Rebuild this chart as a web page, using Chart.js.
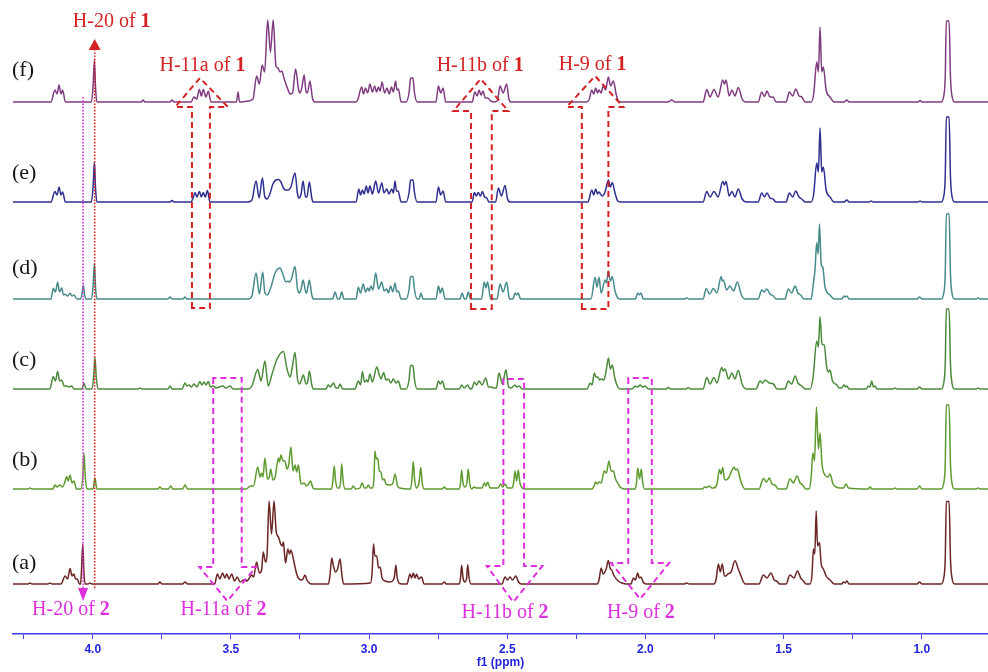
<!DOCTYPE html>
<html><head><meta charset="utf-8">
<script src="https://cdn.jsdelivr.net/npm/chart.js@4"></script>
<style>html,body{margin:0;padding:0;background:#fff}#wrap{width:988px;height:672px}</style>
</head><body><div id="wrap"><canvas id="c" width="988" height="672"></canvas></div>
<script>
// ---- DATA: [chemical shift (ppm), intensity] pairs ----
const spectrumLabels = ['(a)','(b)','(c)','(d)','(e)','(f)'];
const xTickValues = [4.0, 3.5, 3.0, 2.5, 2.0, 1.5, 1.0];

const specF = [
[4.289,0],[4.173,0],[4.151,0],[4.137,12],[4.129,8],[4.122,17],[4.115,8],[4.109,12],[4.099,0],
[4.005,0],[3.999,15],[3.994,42],[3.990,15],[3.985,0],
[3.825,0],[3.818,2],[3.811,0],[3.720,0],[3.713,2],[3.706,0],
[3.644,0],[3.634,5],[3.624,3],[3.614,12.5],[3.607,6],[3.600,12.5],[3.590,5],[3.582,11],[3.572,0],
[3.480,0],[3.474,10],[3.469,0],
[3.438,1],[3.420,3],[3.407,26],[3.397,18],[3.387,37],[3.378,30],[3.367,82],[3.357,50],[3.347,82],[3.337,36],[3.330,34],[3.322,30],[3.316,31],[3.308,24],[3.293,12],[3.286,8],[3.277,9],[3.266,33],[3.255,12],[3.250,9],[3.243,15],[3.235,27],[3.228,10],[3.223,9],[3.214,21],[3.205,4],[3.196,0],
[3.047,0],[3.040,3],[3.027,15],[3.020,8],[3.013,14],[3.005,9],[2.997,18],[2.988,10],[2.980,16],[2.973,10],[2.966,15],[2.960,11],[2.953,20],[2.944,9],[2.935,14],[2.927,8],[2.919,15],[2.912,10],[2.904,21],[2.899,12],[2.894,13],[2.884,0],
[2.866,0],[2.855,10],[2.850,24],[2.841,24],[2.836,10],[2.826,0],
[2.758,0],[2.749,16],[2.741,9],[2.732,14],[2.723,0],
[2.627,0],[2.617,10],[2.609,6],[2.602,12],[2.595,7],[2.588,11],[2.579,4],[2.570,4],[2.560,1],[2.544,0],[2.535,2],[2.526,16],[2.515,9],[2.502,18],[2.494,3],[2.486,0],
[2.215,0],[2.204,2],[2.194,12],[2.187,8],[2.180,14],[2.173,9],[2.168,12],[2.160,9],[2.153,16],[2.144,12],[2.134,25],[2.126,16],[2.116,21],[2.106,8],[2.098,1],[2.088,0],
[1.918,0],[1.905,2],[1.893,0],
[1.791,0],[1.778,12.5],[1.766,5],[1.752,12.5],[1.737,5],[1.720,22],[1.714,18],[1.708,22],[1.697,6],[1.687,12],[1.676,6],[1.664,14.5],[1.650,3],[1.636,0],
[1.592,0],[1.579,10],[1.569,5.5],[1.560,11],[1.549,5],[1.538,5],[1.527,0],
[1.491,0],[1.479,10],[1.467,6],[1.456,13],[1.444,6],[1.434,5],[1.422,0],
[1.400,0],[1.391,8],[1.380,40],[1.374,30],[1.368,75],[1.362,30],[1.356,35],[1.346,12],[1.332,5],[1.317,0],
[1.281,0],[1.271,2],[1.263,0],[1.013,0],[1.006,1.5],[0.999,0],
[0.930,0],[0.921,5],[0.915,25],[0.911,81],[0.901,81],[0.896,25],[0.890,5],[0.881,0],
[0.760,0]
];

const specE = [
[4.289,0],[4.151,0],[4.137,10.5],[4.129,7],[4.122,15],[4.115,7],[4.109,10],[4.099,0],
[4.005,0],[3.999,14],[3.994,40],[3.990,14],[3.985,0],
[3.720,0],[3.713,1.5],[3.706,0],
[3.644,0],[3.637,4],[3.630,9.5],[3.623,5],[3.614,10.5],[3.607,5],[3.600,9.5],[3.593,5],[3.585,11.5],[3.576,0],
[3.438,0],[3.424,2],[3.409,21],[3.398,4],[3.386,24],[3.378,6],[3.370,3],[3.359,8],[3.348,18],[3.337,22],[3.328,22.5],[3.319,20],[3.310,14],[3.302,12],[3.293,12],[3.283,15],[3.268,29],[3.259,8],[3.254,4],[3.246,8],[3.239,21],[3.230,5],[3.225,5],[3.216,20],[3.208,5],[3.203,0],
[3.047,0],[3.037,13],[3.031,7],[3.024,12],[3.018,8],[3.010,16],[3.004,9],[2.997,16],[2.988,8],[2.976,21],[2.966,9],[2.954,19],[2.946,9],[2.936,13],[2.928,8],[2.918,13],[2.912,9],[2.906,21],[2.901,11],[2.895,11],[2.884,0],
[2.866,0],[2.855,10],[2.850,22],[2.841,22],[2.836,10],[2.826,0],
[2.758,0],[2.749,15],[2.741,7],[2.732,11],[2.723,0],
[2.627,0],[2.619,9.6],[2.612,6],[2.605,9.6],[2.597,6],[2.590,10.6],[2.582,5],[2.574,4],[2.566,0],
[2.542,0],[2.532,14],[2.521,6],[2.508,16.6],[2.499,3],[2.490,0],
[2.208,0],[2.194,12],[2.187,7],[2.180,13],[2.173,8],[2.168,10],[2.157,6],[2.146,10],[2.134,22],[2.127,15],[2.120,19.6],[2.110,9],[2.100,1],[2.088,0],
[1.791,0],[1.778,10.6],[1.766,5],[1.752,10.6],[1.737,5],[1.720,20.6],[1.714,17],[1.708,20.6],[1.697,6],[1.687,10.6],[1.676,5],[1.664,13],[1.650,3],[1.636,0],
[1.592,0],[1.579,9],[1.569,5],[1.560,9],[1.549,4],[1.538,3],[1.527,0],
[1.491,0],[1.479,9],[1.467,5],[1.456,11],[1.444,5],[1.434,3],[1.422,0],
[1.400,0],[1.391,8],[1.380,39],[1.374,30],[1.368,74],[1.362,30],[1.356,35],[1.346,12],[1.332,5],[1.317,0],
[1.281,0],[1.271,2],[1.263,0],[1.191,0],[1.183,1],[1.176,0],[1.013,0],[1.006,1],[0.999,0],
[0.930,0],[0.921,5],[0.915,25],[0.911,85],[0.901,85],[0.896,25],[0.890,5],[0.881,0],
[0.760,0]
];

const specD = [
[4.289,0],[4.151,0],[4.143,10.7],[4.135,7],[4.127,16.7],[4.120,7],[4.112,11],[4.106,4],[4.100,4.7],[4.091,3],[4.082,5.7],[4.075,3],[4.068,4],[4.057,0],
[4.044,0],[4.039,5],[4.034,14],[4.030,5],[4.024,0],
[4.005,0],[3.999,12],[3.994,35.7],[3.990,12],[3.985,0],
[3.728,0],[3.720,2],[3.713,0],[3.673,0],[3.666,2],[3.659,0],
[3.438,0],[3.424,3],[3.409,26],[3.397,5],[3.385,27],[3.377,6],[3.368,4],[3.355,12],[3.340,26],[3.322,31],[3.311,24],[3.301,17],[3.293,18],[3.289,17],[3.281,20],[3.268,32.5],[3.259,10],[3.252,6],[3.246,10],[3.239,19],[3.228,6],[3.225,7],[3.216,19],[3.208,5],[3.202,0],
[3.132,0],[3.123,7],[3.114,0],[3.107,0],[3.099,7],[3.091,0],
[3.047,0],[3.039,11.7],[3.031,6],[3.021,15],[3.013,7],[3.005,11],[3.000,8],[2.993,13],[2.986,9],[2.976,26],[2.966,10],[2.954,17],[2.946,8],[2.936,10],[2.930,6],[2.922,13],[2.914,7],[2.906,16],[2.900,7],[2.894,8],[2.884,0],
[2.866,0],[2.855,10],[2.850,22.6],[2.841,22.6],[2.836,10],[2.826,0],
[2.819,0],[2.812,6],[2.805,0],
[2.758,0],[2.749,13],[2.742,6],[2.735,11],[2.725,0],
[2.671,0],[2.663,6],[2.655,0],[2.649,0],[2.641,7],[2.633,0],
[2.593,0],[2.583,17],[2.577,11],[2.571,17],[2.560,0],
[2.537,0],[2.526,15],[2.515,7],[2.502,16.7],[2.492,0],
[2.479,0],[2.472,6],[2.466,4],[2.460,6],[2.452,0],
[2.197,0],[2.182,21.7],[2.175,12],[2.168,21.7],[2.160,6],[2.146,19],[2.141,16],[2.134,28],[2.127,18],[2.120,22.6],[2.110,8],[2.100,1],[2.092,0],
[2.036,0],[2.028,6],[2.022,4],[2.016,6],[2.008,0],
[1.860,0],[1.850,1],[1.842,0],
[1.791,0],[1.780,10.6],[1.768,5],[1.754,10.6],[1.741,6],[1.726,22.6],[1.722,18],[1.718,19],[1.706,9],[1.694,13],[1.681,8],[1.667,17],[1.654,5],[1.639,0],
[1.592,0],[1.579,9],[1.570,7],[1.561,10],[1.549,5],[1.537,3],[1.527,0],
[1.495,0],[1.483,10],[1.471,6],[1.458,13],[1.448,6],[1.438,4],[1.426,0],
[1.400,0],[1.392,16],[1.386,30],[1.380,56.6],[1.375,45],[1.370,75],[1.364,35],[1.358,31.6],[1.350,12],[1.332,4],[1.317,0],
[1.290,0],[1.281,3],[1.276,2],[1.271,3],[1.263,0],
[1.017,0],[1.008,2],[0.999,0],
[0.930,0],[0.921,5],[0.915,25],[0.911,85],[0.901,85],[0.896,25],[0.890,5],[0.881,0],
[0.803,0],[0.796,1],[0.789,0],[0.760,0]
];

const specC = [
[4.289,0],[4.155,0],[4.143,12.6],[4.135,8],[4.127,17.6],[4.120,8],[4.112,9],[4.104,3],[4.094,3],[4.086,2],[4.076,3],[4.068,0],
[4.039,0],[4.032,6],[4.024,0],
[4.003,0],[3.997,11],[3.992,31.6],[3.987,11],[3.981,0],
[3.836,0],[3.829,1],[3.822,0],[3.728,0],[3.720,3],[3.713,0],
[3.677,0],[3.666,6],[3.659,3],[3.651,4],[3.643,2],[3.634,5],[3.623,2],[3.612,7.6],[3.605,4],[3.597,7],[3.590,4],[3.582,7.6],[3.574,2],[3.564,3],[3.554,1],[3.530,3],[3.518,1],[3.503,3],[3.492,0],
[3.438,0],[3.424,3],[3.403,19.5],[3.391,8],[3.377,28],[3.365,3],[3.351,15],[3.333,30],[3.310,37.5],[3.297,20],[3.286,12],[3.279,20],[3.268,36.5],[3.259,10],[3.252,5],[3.246,8],[3.238,14],[3.228,5],[3.223,6],[3.216,18],[3.208,5],[3.202,0],
[3.156,0],[3.148,4],[3.140,2],[3.129,6],[3.120,1],[3.112,1],[3.105,5],[3.096,0],
[3.051,0],[3.039,8],[3.031,4],[3.024,17.6],[3.017,7],[3.008,9],[3.004,7],[2.997,15],[2.988,7],[2.972,22],[2.963,14],[2.957,10],[2.947,16.5],[2.939,9],[2.930,10],[2.921,6],[2.912,10],[2.903,6],[2.894,8],[2.884,0],
[2.866,0],[2.855,10],[2.850,23.6],[2.841,23.6],[2.836,10],[2.826,0],
[2.758,0],[2.749,8],[2.742,5],[2.735,8],[2.725,0],
[2.673,0],[2.665,4],[2.656,1],[2.643,4],[2.635,0],
[2.627,1],[2.619,7],[2.611,4],[2.602,8],[2.591,4],[2.578,11],[2.568,2],[2.559,2],[2.548,1],
[2.539,1],[2.530,16],[2.517,5],[2.505,19.3],[2.495,2],[2.486,1],
[2.472,4],[2.465,2],[2.457,3],[2.446,0],
[2.211,0],[2.200,6],[2.193,4],[2.185,16],[2.179,12],[2.172,12],[2.166,9],[2.160,10],[2.150,9],[2.141,20],[2.134,31],[2.127,20],[2.120,24],[2.110,10],[2.100,2],[2.092,0],
[2.048,0],[2.037,3],[2.028,2],[2.019,4],[2.010,2],[2.001,3],[1.990,0],
[1.925,0],[1.917,1.5],[1.909,0],[1.853,0],[1.845,1.5],[1.837,0],
[1.791,0],[1.778,11.6],[1.766,5],[1.752,11.6],[1.741,6],[1.724,21.6],[1.718,18],[1.712,20],[1.699,10],[1.687,16],[1.676,10],[1.664,18.6],[1.650,5],[1.636,0],
[1.600,0],[1.585,8],[1.576,6],[1.567,9],[1.552,6],[1.537,5],[1.524,0],
[1.495,0],[1.483,8],[1.471,5],[1.458,13],[1.448,6],[1.434,3],[1.422,0],
[1.404,0],[1.393,12],[1.380,48],[1.374,42],[1.368,72.6],[1.361,45],[1.353,44],[1.344,22],[1.337,17],[1.332,19],[1.323,8],[1.307,4],[1.299,1],
[1.290,1],[1.281,4],[1.276,2],[1.271,3],[1.263,0],
[1.201,0],[1.193,3],[1.187,2],[1.181,8],[1.175,2],[1.169,3],[1.162,0],
[1.104,0],[1.096,1],[1.089,0],[1.017,0],[1.008,2],[0.999,0],
[0.930,0],[0.921,5],[0.915,25],[0.911,80],[0.901,80],[0.896,25],[0.890,5],[0.881,0],
[0.803,0],[0.796,1],[0.789,0],[0.760,0]
];

const specB = [
[4.289,0],[4.234,0],[4.227,1],[4.220,0],
[4.144,0],[4.137,4],[4.129,2],[4.119,4],[4.110,2],[4.102,6],[4.094,12.6],[4.089,8],[4.082,14],[4.075,6],[4.068,8],[4.059,0],
[4.043,0],[4.036,12],[4.032,36],[4.027,12],[4.021,0],
[3.999,0],[3.992,11],[3.985,0],
[3.764,0],[3.757,2],[3.749,0],[3.726,0],[3.718,3],[3.710,0],[3.675,0],[3.666,4],[3.657,0],
[3.445,0],[3.429,3],[3.418,3],[3.403,22],[3.395,12],[3.389,16],[3.384,12],[3.377,31],[3.368,10],[3.361,12],[3.356,20],[3.348,9],[3.340,12],[3.328,31],[3.324,27],[3.319,34],[3.311,28],[3.305,28],[3.297,20],[3.291,24],[3.283,42],[3.275,18],[3.268,24],[3.262,17],[3.256,24],[3.248,7],[3.243,5],[3.235,6],[3.226,3],[3.219,5],[3.212,8],[3.203,1],[3.192,0],
[3.136,0],[3.131,8],[3.126,23],[3.121,8],[3.114,1],[3.107,1],[3.103,8],[3.099,25],[3.094,8],[3.087,0],
[3.065,0],[3.057,3],[3.049,0],[3.033,1],[3.025,6],[3.017,1],[3.010,1],[3.003,4],[2.996,1],
[2.989,1],[2.982,12],[2.979,38],[2.974,30],[2.969,31],[2.963,18],[2.957,17],[2.951,9],[2.945,10],[2.939,5],[2.928,4],[2.915,5],[2.906,15],[2.897,3],[2.888,1],
[2.850,0],[2.845,9],[2.840,27.6],[2.835,9],[2.828,1],[2.819,7],[2.813,21.5],[2.808,7],[2.801,0],
[2.736,0],[2.728,2],[2.720,0],
[2.674,0],[2.669,6],[2.665,19],[2.660,6],[2.653,2],[2.646,6],[2.641,20],[2.636,6],[2.629,0],
[2.620,2],[2.611,1],[2.591,1],[2.583,6],[2.577,3],[2.571,7],[2.562,1],[2.551,1],[2.533,1],[2.524,5],[2.516,2],[2.508,5],[2.499,1],[2.483,1],[2.477,6],[2.472,18],[2.466,8],[2.460,19],[2.454,6],[2.446,1],[2.436,0],
[2.193,0],[2.186,3],[2.180,7],[2.174,5],[2.168,7],[2.160,6],[2.149,18],[2.141,16],[2.132,28],[2.124,18],[2.116,18],[2.108,10],[2.100,6],[2.092,2],[2.074,0],
[2.037,0],[2.032,7],[2.028,21],[2.021,10],[2.015,20],[2.010,7],[2.003,0],
[1.795,0],[1.784,2],[1.777,1.5],[1.769,3],[1.759,1],[1.752,1],[1.741,5],[1.732,19.6],[1.726,15],[1.720,21.6],[1.714,10],[1.708,9],[1.697,12],[1.688,18],[1.679,22],[1.674,19],[1.667,20],[1.657,10],[1.650,4],[1.639,0],
[1.589,0],[1.573,10.6],[1.562,7],[1.551,11],[1.542,5],[1.531,4],[1.520,0],
[1.491,0],[1.477,10],[1.464,6],[1.452,13],[1.440,6],[1.431,4],[1.419,0],
[1.408,0],[1.400,12],[1.394,36],[1.388,28],[1.381,82],[1.374,40],[1.368,56],[1.361,25],[1.350,14],[1.339,12],[1.332,15],[1.321,5],[1.310,2],[1.296,1],
[1.283,1],[1.274,5],[1.265,1],[1.194,0],[1.187,2],[1.180,0],
[1.104,0],[1.096,1],[1.089,0],[1.017,0],[1.008,3],[0.999,0],
[0.930,0],[0.921,5],[0.915,25],[0.911,84],[0.901,84],[0.896,25],[0.890,5],[0.881,0],
[0.803,0],[0.796,1],[0.789,0],[0.760,0]
];

const specA = [
[4.289,0],[4.234,0],[4.227,1],[4.220,0],[4.162,0],[4.155,1],[4.147,0],
[4.115,0],[4.100,8],[4.091,5],[4.082,15.6],[4.075,8],[4.068,10],[4.062,5],[4.056,5],[4.048,0],
[4.044,0],[4.041,12],[4.036,40],[4.032,12],[4.028,0],
[4.017,0],[4.010,1],[4.003,0],
[3.764,0],[3.757,2],[3.749,0],[3.675,0],[3.666,2],[3.657,0],
[3.559,0],[3.549,10],[3.540,5],[3.530,11],[3.522,6],[3.515,10],[3.507,5],[3.497,10],[3.487,3],[3.477,7],[3.467,2],[3.453,4],[3.442,3],[3.433,6],[3.425,9],[3.418,7],[3.407,22],[3.397,11],[3.389,14],[3.383,32],[3.375,22],[3.369,30],[3.362,83],[3.353,50],[3.344,83],[3.336,52],[3.328,47],[3.320,40],[3.315,38],[3.310,42],[3.306,30],[3.302,21],[3.294,35],[3.288,30],[3.283,34],[3.274,25],[3.268,17],[3.262,10],[3.256,6],[3.246,4],[3.239,5],[3.232,9],[3.225,4],[3.217,1],[3.207,0],
[3.147,0],[3.141,10],[3.135,26],[3.129,18],[3.121,12],[3.114,15],[3.105,25],[3.098,8],[3.092,0],
[2.995,1],[2.989,12],[2.984,40],[2.979,28],[2.972,28],[2.966,16],[2.960,17],[2.953,6],[2.942,3],[2.924,2],[2.912,4],[2.908,8],[2.903,19],[2.899,8],[2.892,1],[2.881,0],
[2.863,0],[2.852,10],[2.846,6],[2.840,11],[2.834,6],[2.828,10],[2.821,5],[2.810,7],[2.801,0],
[2.736,0],[2.728,2],[2.720,0],
[2.674,0],[2.669,6],[2.665,18.7],[2.660,6],[2.653,2],[2.647,6],[2.643,19.3],[2.638,6],[2.631,0],
[2.519,0],[2.508,7],[2.499,4],[2.490,7],[2.481,4],[2.469,8],[2.459,2],[2.450,0],
[2.175,0],[2.168,4],[2.160,16],[2.153,10],[2.142,15],[2.134,23.4],[2.128,16],[2.122,14],[2.113,8],[2.098,3],[2.085,1],[2.070,0],
[2.052,0],[2.044,6],[2.036,4],[2.028,11],[2.022,6],[2.016,7],[2.008,2],[1.998,0],
[1.860,0],[1.850,1],[1.842,0],
[1.752,0],[1.744,5],[1.736,20],[1.729,12],[1.722,20],[1.714,8],[1.708,8],[1.702,10],[1.690,12],[1.676,23.3],[1.664,15],[1.654,8],[1.647,3],[1.639,0],
[1.589,0],[1.573,9],[1.560,6],[1.546,11],[1.534,4],[1.525,3],[1.513,0],
[1.491,0],[1.477,9],[1.462,6],[1.450,13],[1.438,6],[1.428,3],[1.419,0],
[1.404,0],[1.397,10],[1.392,35],[1.387,30],[1.382,73],[1.377,38],[1.370,41.6],[1.364,20],[1.356,15],[1.346,8],[1.332,4],[1.317,0],
[1.290,0],[1.283,2],[1.277,1],[1.271,3],[1.263,0],
[1.017,0],[1.008,2],[0.999,0],
[0.930,0],[0.921,5],[0.915,25],[0.911,82.6],[0.901,82.6],[0.896,25],[0.890,5],[0.881,0],
[0.760,0]
];

const spectra = [specA, specB, specC, specD, specE, specF];

// ---- layout / style (not data) ----
const stackOffsets = [50, 145, 245, 335, 432, 532];
const labelValues  = [71, 174, 274, 366, 461, 564];
const lineColors = ['#6b2525','#5e9a2e','#4b8a3b','#468a8a','#2f2f8f','#803c80'];
const RED = '#d42222', MAG = '#dd2fdd', AXIS = '#3c3cf0';
const X_MIN = 0.7602, X_MAX = 4.2886, Y_MAX = 634;

const redArrows = [
 {l:3.641, r:3.576, wl:3.702, wr:3.511, tip:3.612, yEnd:326, yBase:527, yTip:556},
 {l:2.631, r:2.556, wl:2.695, wr:2.496, tip:2.596, yEnd:325, yBase:523, yTip:555},
 {l:2.230, r:2.134, wl:2.285, wr:2.080, tip:2.182, yEnd:325, yBase:527, yTip:558}
];
const magArrows = [
 {l:3.564, r:3.461, wl:3.614, wr:3.409, tip:3.513, yEnd:256, yBase:67, yTip:33},
 {l:2.514, r:2.439, wl:2.574, wr:2.373, tip:2.478, yEnd:255, yBase:68, yTip:32},
 {l:2.062, r:1.977, wl:2.124, wr:1.914, tip:2.019, yEnd:256, yBase:71, yTip:35}
];
const textNotes = [
 {parts:[['H-20 of ',0],['1',1]], x:4.072, y:612, align:'left', color:RED},
 {parts:[['H-11a of ',0],['1',1]], x:3.603, y:568, align:'center', color:RED},
 {parts:[['H-11b of ',0],['1',1]], x:2.598, y:568, align:'center', color:RED},
 {parts:[['H-9 of ',0],['1',1]], x:2.191, y:569, align:'center', color:RED},
 {parts:[['H-20 of ',0],['2',1]], x:4.079, y:24, align:'center', color:MAG},
 {parts:[['H-11a of ',0],['2',1]], x:3.527, y:24, align:'center', color:MAG},
 {parts:[['H-11b of ',0],['2',1]], x:2.508, y:21, align:'center', color:MAG},
 {parts:[['H-9 of ',0],['2',1]], x:2.016, y:21, align:'center', color:MAG}
];

function richText(ctx, parts, x, y, align, color){
  const fN = '20px "Liberation Serif", serif', fB = 'bold 20px "Liberation Serif", serif';
  let w = 0;
  parts.forEach(([t,b]) => { ctx.font = b ? fB : fN; w += ctx.measureText(t).width; });
  let cx = align === 'center' ? x - w/2 : x;
  ctx.fillStyle = color; ctx.textBaseline = 'middle'; ctx.textAlign = 'left';
  parts.forEach(([t,b]) => { ctx.font = b ? fB : fN; ctx.fillText(t, cx, y); cx += ctx.measureText(t).width; });
}

const annotPlugin = {
  id: 'annot',
  afterDatasetsDraw(chart){
    const ctx = chart.ctx, xs = chart.scales.x, ys = chart.scales.y;
    const X = p => xs.getPixelForValue(p), Y = v => ys.getPixelForValue(v);
    ctx.save();
    ctx.lineWidth = 1.6; ctx.setLineDash([1.6, 1.6]);
    ctx.strokeStyle = RED;
    ctx.beginPath(); ctx.moveTo(X(3.993), Y(585)); ctx.lineTo(X(3.993), Y(44)); ctx.stroke();
    ctx.strokeStyle = MAG;
    ctx.beginPath(); ctx.moveTo(X(4.035), Y(537)); ctx.lineTo(X(4.035), Y(46)); ctx.stroke();
    ctx.setLineDash([]);
    ctx.fillStyle = RED;
    ctx.beginPath(); ctx.moveTo(X(3.993), Y(595)); ctx.lineTo(X(3.993)-6, Y(584)); ctx.lineTo(X(3.993)+6, Y(584)); ctx.closePath(); ctx.fill();
    ctx.fillStyle = MAG;
    ctx.beginPath(); ctx.moveTo(X(4.035), Y(33)); ctx.lineTo(X(4.035)-5, Y(46)); ctx.lineTo(X(4.035)+5, Y(46)); ctx.closePath(); ctx.fill();
    ctx.lineWidth = 2; ctx.setLineDash([6, 4]);
    const drawArrow = (a, col) => {
      ctx.strokeStyle = col;
      ctx.beginPath();
      ctx.moveTo(X(a.l), Y(a.yEnd)); ctx.lineTo(X(a.l), Y(a.yBase)); ctx.lineTo(X(a.wl), Y(a.yBase));
      ctx.lineTo(X(a.tip), Y(a.yTip)); ctx.lineTo(X(a.wr), Y(a.yBase)); ctx.lineTo(X(a.r), Y(a.yBase));
      ctx.lineTo(X(a.r), Y(a.yEnd)); ctx.closePath(); ctx.stroke();
    };
    redArrows.forEach(a => drawArrow(a, RED));
    magArrows.forEach(a => drawArrow(a, MAG));
    ctx.setLineDash([]);
    textNotes.forEach(n => richText(ctx, n.parts, X(n.x), Y(n.y), n.align, n.color));
    ctx.font = '22px "Liberation Serif", serif'; ctx.fillStyle = '#151515';
    ctx.textAlign = 'left'; ctx.textBaseline = 'middle';
    spectrumLabels.forEach((s, i) => ctx.fillText(s, 12, Y(labelValues[i])));
    ctx.restore();
  }
};

const datasets = spectra.map((sp, i) => ({
  label: spectrumLabels[i],
  data: sp.map(([p, h]) => ({x: p, y: h + stackOffsets[i]})),
  showLine: true, borderColor: lineColors[i], borderWidth: 1.5,
  pointRadius: 0, cubicInterpolationMode: 'monotone', fill: false
}));

new Chart(document.getElementById('c'), {
  type: 'scatter',
  data: { datasets },
  options: {
    responsive: false, animation: false, devicePixelRatio: 1,
    layout: { padding: { left: 13, right: 0, top: 0, bottom: 0 } },
    plugins: { legend: { display: false }, tooltip: { enabled: false } },
    scales: {
      x: {
        type: 'linear', reverse: true, min: X_MIN, max: X_MAX, position: 'bottom',
        afterFit: (s) => { s.height = 38; },
        border: { display: true, color: AXIS, width: 1.5 },
        grid: { display: true, drawOnChartArea: false, drawTicks: true, tickLength: 5, color: AXIS, lineWidth: 1 },
        ticks: {
          stepSize: 0.25, includeBounds: false, autoSkip: false, maxRotation: 0, padding: 3,
          color: '#2424dd', font: { family: '"Liberation Sans", Arial, sans-serif', size: 12, weight: 'bold' },
          callback: (v) => xTickValues.some(t => Math.abs(t - v) < 1e-6) ? v.toFixed(1) : ''
        },
        title: { display: true, text: 'f1 (ppm)', color: '#2424dd', padding: { top: 0, bottom: 2 },
          font: { family: '"Liberation Sans", Arial, sans-serif', size: 12, weight: 'bold' } }
      },
      y: { type: 'linear', display: false, min: 0, max: Y_MAX }
    }
  },
  plugins: [annotPlugin]
});
</script>
</body></html>
